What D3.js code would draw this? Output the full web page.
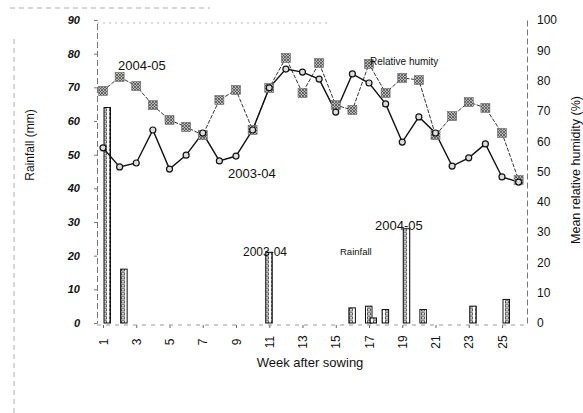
<!DOCTYPE html>
<html>
<head>
<meta charset="utf-8">
<script src="https://cdn.jsdelivr.net/npm/d3@7"></script>
<style>
  body { margin: 0; background: #fff; }
  svg { display: block; font-family: "Liberation Sans", Arial, sans-serif; }
</style>
</head>
<body>
<div id="chart"></div>
<script>
// Data
var weeks = [1,2,3,4,5,6,7,8,9,10,11,12,13,14,15,16,17,18,19,20,21,22,23,24,25,26];
var rh0304 = [57.8,51.5,52.8,63.7,50.8,55.4,62.7,53.5,55.1,63.7,77.6,83.8,82.8,80.5,69.6,82.2,79.2,72.3,59.7,68.0,62.7,51.8,54.5,59.1,48.2,46.5];
var rh0405 = [76.6,81.2,78.2,71.9,67.0,64.7,62.0,73.6,76.9,63.7,77.6,87.5,75.9,85.8,71.9,70.3,85.5,75.9,80.9,80.2,62.0,68.3,72.9,71.0,62.7,47.2];
var rain0304 = [0,0,0,0,0,0,0,0,0,0,21,0,0,0,0,4.5,5,4,0,0,0,0,0,0,0,0];
var rain0405 = [64,16,0,0,0,0,0,0,0,0,0,0,0,0,0,0,1.5,0,28,4,0,0,5,0,7,0];
var leftTicks = [0,10,20,30,40,50,60,70,80,90];
var rightTicks = [0,10,20,30,40,50,60,70,80,90,100];
var xTicks = [1,3,5,7,9,11,13,15,17,19,21,23,25];

var width = 583,
    height = 413;

var svg = d3.select('#chart').append('svg')
    .attr('width', width)
    .attr('height', height);

var defs = svg.append('defs');

// speckled grey fill for the 2004-05 squares
var pSq = defs.append('pattern')
    .attr('id', 'sq-fill')
    .attr('patternUnits', 'userSpaceOnUse')
    .attr('width', 3).attr('height', 3);
pSq.append('rect').attr('width', 3).attr('height', 3).attr('fill', '#b8b8b8');
pSq.append('path').attr('d', 'M0,0L3,3M3,0L0,3').attr('stroke', '#444').attr('stroke-width', 0.7);

// chain-like fill for rainfall bars
var pBar = defs.append('pattern')
    .attr('id', 'bar-fill')
    .attr('patternUnits', 'userSpaceOnUse')
    .attr('width', 6).attr('height', 4);
pBar.append('rect').attr('width', 6).attr('height', 4).attr('fill', '#fff');
pBar.append('rect').attr('x', 1.5).attr('y', 0.8).attr('width', 3).attr('height', 2.2)
    .attr('fill', 'none').attr('stroke', '#333').attr('stroke-width', 0.8);

// Scales
var x = d3.scaleLinear().domain([1, 25]).range([103, 502]);
var yRain = d3.scaleLinear().domain([0, 90]).range([323, 20]);
var yRh = d3.scaleLinear().domain([0, 100]).range([323, 20]);

var axisX0 = 97, axisX1 = 527;

// faint scanned frame
svg.append('path')
    .attr('d', 'M14,413V36M10,8H210')
    .attr('fill', 'none').attr('stroke', '#999')
    .attr('stroke-width', 0.8).attr('stroke-dasharray', '5,4');

svg.append('line')
    .attr('x1', axisX0).attr('x2', 330).attr('y1', 23).attr('y2', 23)
    .attr('stroke', '#aaa').attr('stroke-width', 0.8).attr('stroke-dasharray', '2,4');

// Left axis
var gL = svg.append('g')
    .attr('transform', 'translate(' + axisX0 + ',0)')
    .call(d3.axisLeft(yRain).tickValues(leftTicks).tickSize(3).tickPadding(14));
gL.select('.domain').attr('stroke', '#777').attr('stroke-dasharray', '6,3');
gL.selectAll('.tick line').attr('stroke', '#777');
gL.selectAll('.tick text').attr('font-size', 11).attr('fill', '#111')
    .attr('font-weight', 'bold').attr('font-style', 'italic');

// Right axis
var gR = svg.append('g')
    .attr('transform', 'translate(' + axisX1 + ',0)')
    .call(d3.axisRight(yRh).tickValues(rightTicks).tickSize(0).tickPadding(10));
gR.select('.domain').attr('stroke', '#777').attr('stroke-dasharray', '6,3');
gR.selectAll('.tick text').attr('font-size', 12).attr('fill', '#111');

// Bottom axis
var gB = svg.append('g')
    .attr('transform', 'translate(0,325)')
    .call(d3.axisBottom(x).tickValues(xTicks).tickSize(3).tickPadding(0));
gB.select('.domain').remove();
gB.append('line')
    .attr('x1', axisX0).attr('x2', axisX1)
    .attr('stroke', '#999').attr('stroke-dasharray', '4,5');
gB.selectAll('.tick line').attr('stroke', '#666');
gB.selectAll('.tick text')
    .attr('font-size', 12).attr('fill', '#111')
    .attr('text-anchor', 'middle')
    .attr('dy', '0.35em')
    .attr('transform', 'translate(0,17) rotate(-90)')
    .attr('y', 0);

// Axis titles
svg.append('text')
    .attr('transform', 'translate(34,145) rotate(-90)')
    .attr('text-anchor', 'middle')
    .attr('font-size', 12).attr('fill', '#111')
    .text('Rainfall (mm)');

svg.append('text')
    .attr('transform', 'translate(580,170) rotate(-90)')
    .attr('text-anchor', 'middle')
    .attr('font-size', 12.5).attr('fill', '#111')
    .text('Mean relative humidity (%)');

svg.append('text')
    .attr('x', 310).attr('y', 367)
    .attr('text-anchor', 'middle')
    .attr('font-size', 13).attr('fill', '#111')
    .text('Week after sowing');

// Rainfall bars
var barW = 6.5;
function drawBars(vals, offset) {
  var d = weeks.map(function(w, i) { return { w: w, v: vals[i] }; })
    .filter(function(el) { return el.v > 0; });
  svg.append('g').selectAll('rect')
      .data(d)
    .enter().append('rect')
      .attr('x', function(el) { return x(el.w) + offset; })
      .attr('y', function(el) { return yRain(el.v); })
      .attr('width', barW)
      .attr('height', function(el) { return yRain(0) - yRain(el.v); })
      .attr('fill', 'url(#bar-fill)')
      .attr('stroke', '#111')
      .attr('stroke-width', 1);
}
drawBars(rain0304, -3.5);
drawBars(rain0405, 1);

// Humidity lines
var line = d3.line()
    .x(function(d, i) { return x(weeks[i]); })
    .y(function(d) { return yRh(d); });

svg.append('path')
    .datum(rh0405)
    .attr('d', line)
    .attr('fill', 'none')
    .attr('stroke', '#333')
    .attr('stroke-width', 1)
    .attr('stroke-dasharray', '4,1.5');

svg.append('path')
    .datum(rh0304)
    .attr('d', line)
    .attr('fill', 'none')
    .attr('stroke', '#111')
    .attr('stroke-width', 1.4);

svg.append('g').selectAll('rect')
    .data(rh0405)
  .enter().append('rect')
    .attr('x', function(d, i) { return x(weeks[i]) - 4.5; })
    .attr('y', function(d) { return yRh(d) - 4.5; })
    .attr('width', 9).attr('height', 9)
    .attr('fill', 'url(#sq-fill)')
    .attr('stroke', '#666').attr('stroke-width', 0.6);

svg.append('g').selectAll('circle')
    .data(rh0304)
  .enter().append('circle')
    .attr('cx', function(d, i) { return x(weeks[i]); })
    .attr('cy', function(d) { return yRh(d); })
    .attr('r', 3)
    .attr('fill', '#ddd')
    .attr('stroke', '#111')
    .attr('stroke-width', 1.2);

// Annotations
function note(tx, ty, str, size) {
  svg.append('text')
      .attr('x', tx).attr('y', ty)
      .attr('font-size', size).attr('fill', '#111')
      .text(str);
}
note(118, 70, '2004-05', 13);
note(228, 178, '2003-04', 13);
note(370, 65, 'Relative humity', 10);
note(243, 256, '2003-04', 12);
note(340, 255, 'Rainfall', 9.5);
note(375, 230, '2004-05', 13);
</script>
</body>
</html>
